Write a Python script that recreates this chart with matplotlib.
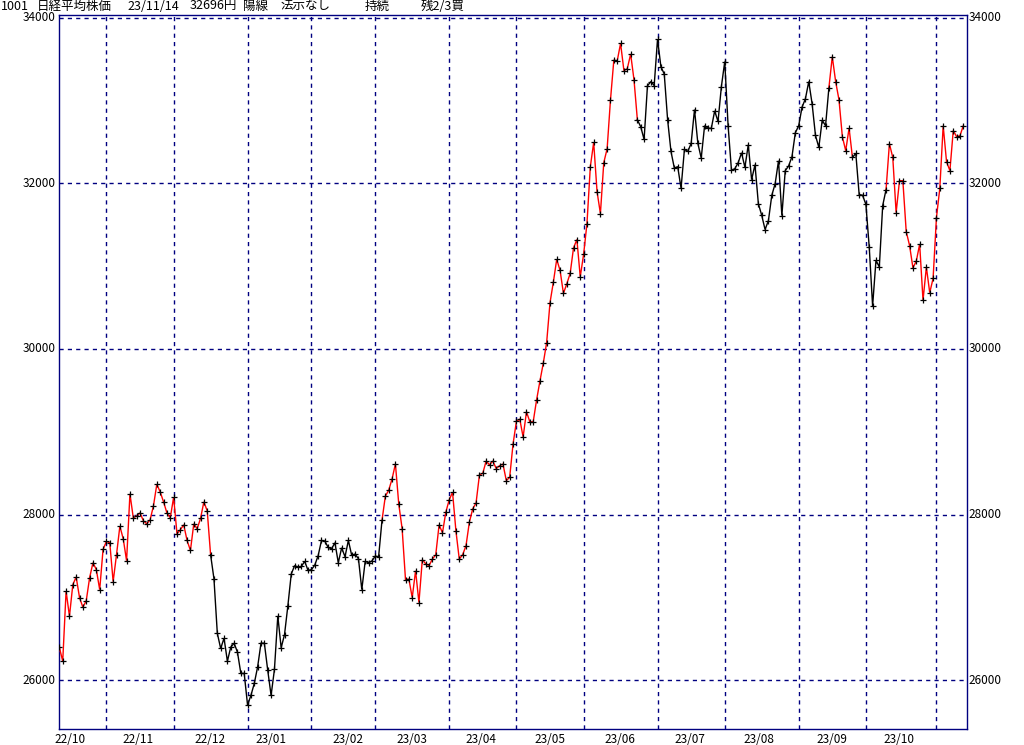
import matplotlib
matplotlib.use("Agg")
import matplotlib.pyplot as plt
import numpy as np

plt.rcParams['font.family'] = ['Noto Sans CJK JP', 'DejaVu Sans']

# ---- data (daily close, trading days 2022/10/12 .. 2023/11/14) ----
closes = [
    26394, 26229, 27076, 26771, 27153, 27245, 26996, 26880, 26960, 27237,
    27418, 27334, 27093, 27578, 27675, 27659, 27189, 27514, 27859, 27707,
    27442, 28249, 27960, 27984, 28020, 27924, 27888, 27936, 28105, 28365,
    28273, 28153, 28020, 27960, 28209, 27767, 27816, 27876, 27687, 27566,
    27888, 27828, 27952, 28153, 28044, 27514, 27225, 26566, 26382, 26506,
    26229, 26398, 26446, 26337, 26081, 26081, 25699, 25815, 25960, 26161,
    26446, 26446, 26120, 25815, 26129, 26775, 26390, 26550, 26900, 27281,
    27382, 27366, 27373, 27434, 27325, 27334, 27389, 27502, 27687, 27678,
    27602, 27586, 27659, 27418, 27598, 27490, 27687, 27506, 27522, 27466,
    27093, 27434, 27418, 27438, 27498, 27490, 27928, 28221, 28293, 28430,
    28611, 28124, 27828, 27213, 27221, 26996, 27321, 26936, 27454, 27406,
    27382, 27462, 27514, 27876, 27779, 28028, 28177, 28269, 27804, 27462,
    27514, 27622, 27907, 28068, 28140, 28478, 28498, 28647, 28599, 28647,
    28554, 28590, 28610, 28410, 28449, 28851, 29124, 29153, 28936, 29241,
    29120, 29120, 29382, 29611, 29828, 30076, 30558, 30807, 31081, 30948,
    30670, 30787, 30912, 31220, 31321, 30871, 31141, 31514, 32201, 32494,
    31900, 31635, 32249, 32418, 33009, 33490, 33478, 33690, 33361, 33385,
    33562, 33249, 32767, 32683, 32530, 33177, 33229, 33181, 33741, 33409,
    33320, 32767, 32385, 32184, 32201, 31940, 32409, 32385, 32482, 32891,
    32482, 32305, 32695, 32667, 32663, 32875, 32747, 33169, 33470, 32695,
    32157, 32177, 32249, 32369, 32193, 32466, 32044, 32225, 31755, 31614,
    31442, 31550, 31855, 31996, 32273, 31610, 32153, 32209, 32321, 32610,
    32695, 32920, 33020, 33229, 32960, 32578, 32434, 32763, 32695, 33157,
    33530, 33229, 33008, 32563, 32394, 32667, 32313, 32361, 31864, 31856,
    31747, 31229, 30518, 31069, 30990, 31731, 31924, 32478, 32313, 31647,
    32032, 32032, 31418, 31249, 30980, 31060, 31265, 30587, 30988, 30679,
    30852, 31587, 31940, 32695, 32261, 32153, 32638, 32563, 32575, 32696,
]

# colour of consecutive line segments (run lengths)
signal_colors = ["red", "black", "red", "black", "red", "black", "red"]
signal_lengths = [45, 51, 76, 57, 7, 10, 23]

# first trading day index of each month (vertical grid)
month_start_idx = [14, 34, 56, 75, 94, 116, 136, 156, 178, 198, 220, 240, 261]
month_labels = ["22/10", "22/11", "22/12", "23/01", "23/02", "23/03", "23/04",
                "23/05", "23/06", "23/07", "23/08", "23/09", "23/10"]
month_label_pos = [3.2, 23.4, 44.8, 63.0, 85.9, 104.9, 125.5, 146.0, 166.8,
                   187.7, 208.2, 229.9, 249.9]

y_ticks = [26000, 28000, 30000, 32000, 34000]

title_parts = ["1001", "日経平均株価", "23/11/14", "32696円", "陽線", "法示なし", "持続", "残2/3買"]
title_x_px = [1, 37, 127, 190, 243, 281, 365, 421]

# ---- figure ----
W, H = 1024, 745
fig = plt.figure(figsize=(W / 100, H / 100), dpi=100)
fig.patch.set_facecolor("white")
L, R, T, B = 58.7, 966.7, 15.0, 729.3
ax = fig.add_axes([L / W, 1 - B / H, (R - L) / W, (B - T) / H])

navy = "#000080"
x = np.arange(len(closes))
y = np.array(closes, dtype=float)

# segments
start = 0
for col, n in zip(signal_colors, signal_lengths):
    ax.plot(x[start:start + n + 1], y[start:start + n + 1], color=col, lw=1.0,
            solid_joinstyle="miter", zorder=3)
    start += n
ax.plot(x, y, linestyle="none", marker="+", ms=4, mew=0.9, color="black", zorder=4)

ax.set_xlim(-0.2, 270.0)
ax.set_ylim(25406, 34033)

for m in month_start_idx:
    ax.axvline(m, color=navy, lw=1.0, ls=(0, (3, 3)), zorder=1)
for v in y_ticks:
    ax.axhline(v, color=navy, lw=1.0, ls=(0, (3, 3)), zorder=1)

for s in ax.spines.values():
    s.set_color(navy)
    s.set_linewidth(1.0)

ax.set_xticks([])
ax.set_yticks([])

# y labels on both sides
for v in y_ticks:
    ax.text(-0.0035, v, str(v), transform=ax.get_yaxis_transform(), ha="right",
            va="center", fontsize=8.5, color="black")
    ax.text(1.002, v, str(v), transform=ax.get_yaxis_transform(), ha="left",
            va="center", fontsize=8.5, color="black")

# month labels
for lab, p in zip(month_labels, month_label_pos):
    ax.text(p, -0.0045, lab, transform=ax.get_xaxis_transform(), ha="center",
            va="top", fontsize=8.5, color="black")

# title
for t, px in zip(title_parts, title_x_px):
    fig.text(px / W, 1 - 6.0 / H, t, ha="left", va="center", fontsize=9, color="black")

fig.savefig("out.png", dpi=100, facecolor="white")
